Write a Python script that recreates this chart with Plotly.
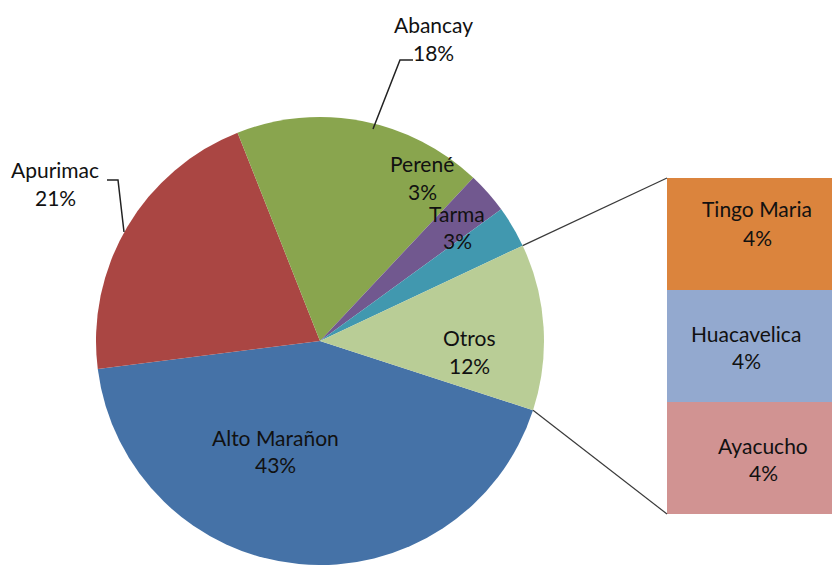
import math
import plotly.graph_objects as go

# ---------------- data ----------------
pie_labels = ["Alto Marañon", "Apurimac", "Abancay", "Perené", "Tarma", "Otros"]
pie_values = [43, 21, 18, 3, 3, 12]

bar_labels = ["Ayacucho", "Huacavelica", "Tingo Maria"]   # bottom -> top
bar_values = [4, 4, 4]

# ---------------- styles ----------------
pie_colors = ["#4572A7", "#AA4643", "#89A54E", "#71588F", "#4198AF", "#B9CD96"]
bar_colors = ["#D19392", "#93A9CF", "#DB843D"]
FONT = "Lato"
FSIZE = 21
TXT = "#111111"

W, H = 832, 565
CX, CY, R = 320, 341, 224          # pie centre / radius in px
ROT = 108                          # first slice start, degrees clockwise from 12 o'clock
BAR_L, BAR_T, BAR_B = 667, 178, 514

# label placement in px: (x centre, y of name line, y of percent line)
label_pos = {
    "Alto Marañon": (275, 437, 465),
    "Apurimac": (55, 169, 198),
    "Abancay": (433, 24, 52),
    "Perené": (422, 163, 191),
    "Tarma": (457, 213, 240),
    "Otros": (469, 337, 365),
    "Tingo Maria": (757, 209, 237),
    "Huacavelica": (746, 333, 360),
    "Ayacucho": (763, 445, 473),
}


def px(x):
    return x / W


def py(y):
    return 1 - y / H


fig = go.Figure()

fig.add_trace(go.Pie(
    labels=pie_labels, values=pie_values, sort=False, direction="clockwise",
    rotation=ROT, textinfo="none", hoverinfo="label+percent",
    marker=dict(colors=pie_colors, line=dict(width=0)),
    domain=dict(x=[px(CX - R), px(CX + R)], y=[max(0, py(CY + R)), py(CY - R)]),
    showlegend=False,
))

for lab, val, col in zip(bar_labels, bar_values, bar_colors):
    fig.add_trace(go.Bar(
        x=[0], y=[val], name=lab, width=1, marker=dict(color=col, line=dict(width=0)),
        xaxis="x", yaxis="y", showlegend=False, hoverinfo="name+y",
    ))

# connector lines between the "Otros" slice and the bar
total = sum(pie_values)
a_end = ROT
a_start = ROT - pie_values[-1] / total * 360


def pie_pt(a):
    r = math.radians(a)
    return CX + R * math.sin(r), CY - R * math.cos(r)


shapes = []
for a, yb in ((a_start, BAR_T), (a_end, BAR_B)):
    x0, y0 = pie_pt(a)
    shapes.append(dict(type="line", xref="paper", yref="paper",
                       x0=px(x0), y0=py(y0), x1=px(BAR_L), y1=py(yb),
                       line=dict(color="#3a3a3a", width=1.2)))

# leader lines for outside labels
leaders = [
    [(373, 129), (400, 60), (413, 60)],
    [(124, 232), (118, 180), (107, 180)],
]
for pts in leaders:
    path = "M " + " L ".join(f"{px(x)},{py(y)}" for x, y in pts)
    shapes.append(dict(type="path", xref="paper", yref="paper", path=path,
                       line=dict(color="#222222", width=1.5)))

# labels
annotations = []
all_labels = list(zip(pie_labels, pie_values)) + list(zip(bar_labels, bar_values))
for lab, val in all_labels:
    x, y1, y2 = label_pos[lab]
    for txt, yy in ((lab, y1), (f"{val}%", y2)):
        annotations.append(dict(
            text=txt, x=px(x), y=py(yy), xref="paper", yref="paper",
            xanchor="center", yanchor="middle", showarrow=False,
            font=dict(family=FONT, size=FSIZE, color=TXT),
        ))

fig.update_layout(
    width=W, height=H, margin=dict(l=0, r=0, t=0, b=0),
    paper_bgcolor="white", plot_bgcolor="white",
    barmode="stack", bargap=0,
    xaxis=dict(domain=[px(BAR_L), 1], range=[-0.5, 0.5], visible=False, fixedrange=True),
    yaxis=dict(domain=[py(BAR_B), py(BAR_T)], range=[0, sum(bar_values)],
               visible=False, fixedrange=True),
    shapes=shapes, annotations=annotations,
    font=dict(family=FONT, size=FSIZE, color=TXT),
)

fig.write_html(
    "out.html",
    config={"displayModeBar": False},
    post_script="document.body.style.margin='0';document.body.style.overflow='hidden';",
)
